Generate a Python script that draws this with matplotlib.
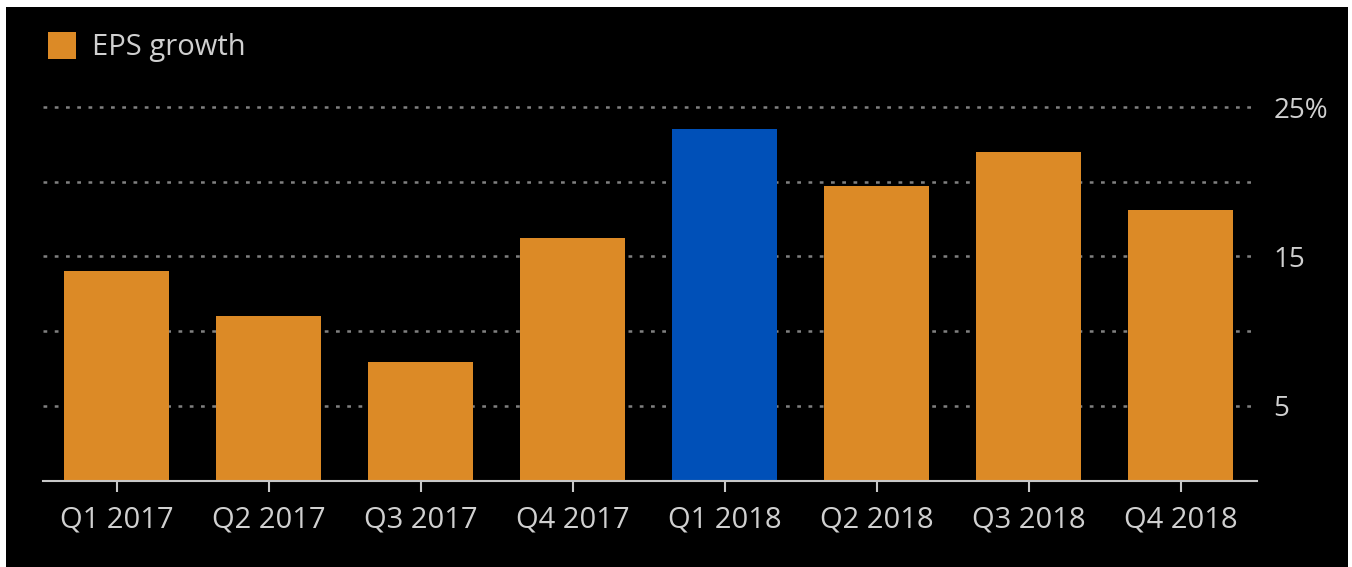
import matplotlib
matplotlib.use("Agg")
import matplotlib.pyplot as plt
from matplotlib.patches import Rectangle

categories = ["Q1 2017", "Q2 2017", "Q3 2017", "Q4 2017", "Q1 2018", "Q2 2018", "Q3 2018", "Q4 2018"]
eps_growth = [14.0, 11.0, 7.9, 16.2, 23.5, 19.7, 22.0, 18.1]
highlight = "Q1 2018"
yticks = [5, 15, 25]
ytick_labels = ["5", "15", "25%"]
grid_levels = [5, 10, 15, 20, 25]

ORANGE = "#dc8a26"
BLUE = "#0050b8"
TEXT = "#d0d0d0"

plt.rcParams['font.family'] = ['Open Sans', 'DejaVu Sans']

W, H = 1352, 567
fig = plt.figure(figsize=(W / 100, H / 100), dpi=100, facecolor="white")
fig.patches.append(Rectangle((6 / W, 0), (1348 - 6) / W, (567 - 7) / H,
                             transform=fig.transFigure, facecolor="black",
                             edgecolor="none", zorder=-10))

ax = fig.add_axes([43 / W, (H - 480.5) / H, (1257 - 43) / W, (480.5 - 107) / H], zorder=5)
ax.set_facecolor("none")
x = list(range(len(categories)))
colors = [BLUE if c == highlight else ORANGE for c in categories]
ax.bar(x, eps_growth, width=0.695, color=colors, zorder=3)
ax.set_xlim(-0.484, 7.503)
ax.set_ylim(0, 25)

for g in grid_levels:
    ax.axhline(g, color="#808080", linestyle=(0, (1.5, 3)), linewidth=1.8, zorder=1, clip_on=False)

for s in ["top", "right", "left"]:
    ax.spines[s].set_visible(False)
ax.spines["bottom"].set_color("#c8c8c8")
ax.spines["bottom"].set_linewidth(1.5)
ax.spines["bottom"].set_zorder(4)

ax.set_xticks(x)
ax.set_xticklabels(categories)
ax.tick_params(axis="x", colors="#c8c8c8", length=8, width=1.5, pad=10, labelsize=21, labelcolor=TEXT)

ax.yaxis.tick_right()
ax.set_yticks(yticks)
ax.set_yticklabels(ytick_labels)
ax.tick_params(axis="y", length=0, pad=12, labelsize=20, labelcolor=TEXT)
for lbl in ax.get_yticklabels():
    lbl.set_horizontalalignment("left")

fig.patches.append(Rectangle((48 / W, (H - 59) / H), 28 / W, 27 / H,
                             transform=fig.transFigure, facecolor=ORANGE,
                             edgecolor="none", zorder=2))
fig.text(92 / W, (H - 47) / H, "EPS growth", color=TEXT, fontsize=21, va="center", ha="left")

fig.savefig("out.png", dpi=100, facecolor="white")
